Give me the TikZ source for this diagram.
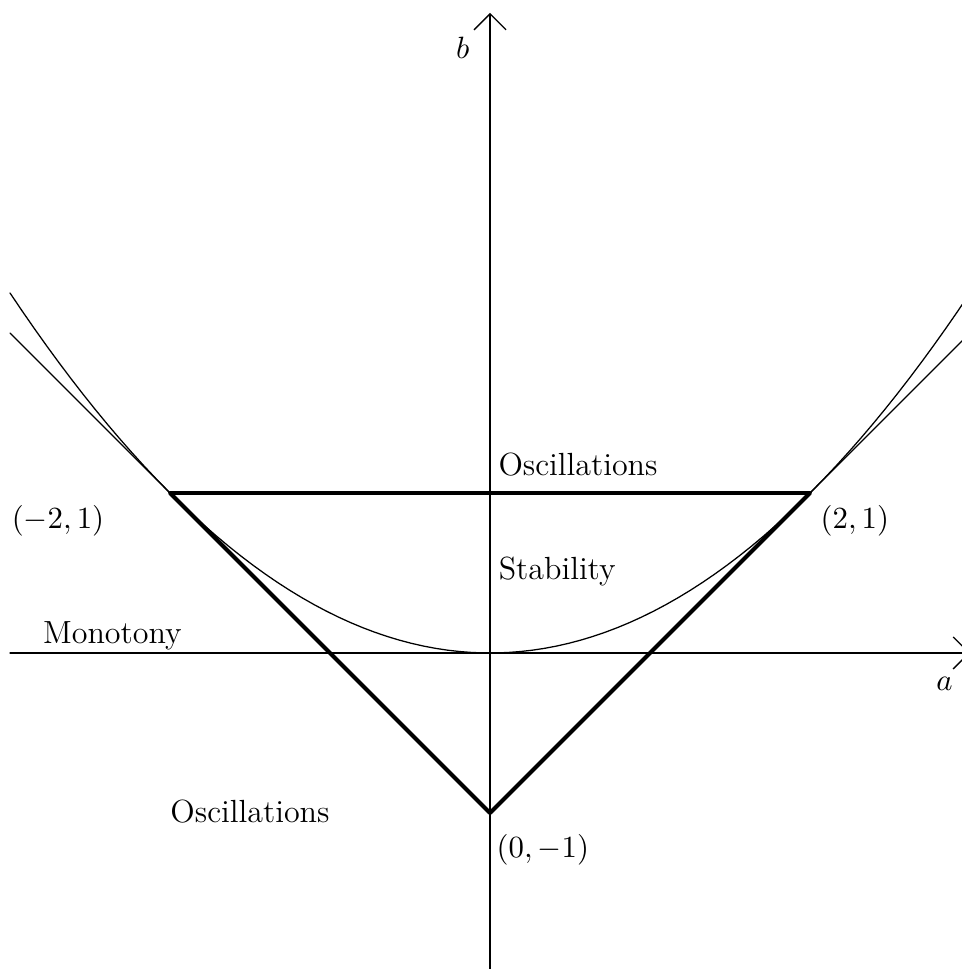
\documentclass[tikz,border=0pt]{standalone}
\usepackage{amsmath}
\usetikzlibrary{arrows.meta,positioning}
\tikzset{
  every picture/.style={line cap=round, line join=round,
    >={Straight Barb[length=5.7pt,width=11.4pt]}},
  every node/.style={font=\fontsize{11.4}{13.7}\selectfont},
  % Linientypen
  thin/.style={line width=0.45pt},
  main/.style={line width=1.4pt},
  axis/.style={thin, ->},
  lbl/.style={inner sep=0pt},
}
\begin{document}
\begin{tikzpicture}[x=2cm, y=2cm]
  \useasboundingbox (-3.0625,-1.975) rectangle (2.944,4.081);
  % Achsen
  \coordinate (xmin) at (-3,0); \coordinate (xmax) at (3,0);
  \coordinate (ymin) at (0,-2); \coordinate (ymax) at (0,4);
  \draw[axis] (xmin) -- (xmax);
  \draw[axis] (ymin) -- (ymax);
  \node[lbl] (la) at (2.84,-0.19) {$a$};
  \node[lbl] (lb) at (-0.17,3.78) {$b$};
  % Parabel b = a^2/4 und Tangenten b = |a|-1
  \draw[thin, domain=-3:3, samples=80] plot (\x,{\x*\x/4});
  \coordinate (L) at (-2,1); \coordinate (R) at (2,1); \coordinate (B) at (0,-1);
  \coordinate (Lend) at (-3,2); \coordinate (Rend) at (3,2);
  \draw[thin] (Lend) -- (L);
  \draw[thin] (Rend) -- (R);
  % Stabilitätsdreieck
  \draw[main] (L) -- (R) -- (B) -- cycle;
  % Beschriftungen
  \node[lbl] (pL) at (-2.70,0.825) {$(-2,1)$};
  \node[lbl] (pR) at (2.28,0.825) {$(2,1)$};
  \node[lbl] (pB) at (0.33,-1.23) {$(0,-1)$};
  \node[lbl] (osc1) at (0.55,1.175) {Oscillations};
  \node[lbl] (stab) at (0.42,0.51) {Stability};
  \node[lbl] (mono) at (-2.36,0.106) {Monotony};
  \node[lbl] (osc2) at (-1.5,-0.99) {Oscillations};
\end{tikzpicture}
\end{document}
